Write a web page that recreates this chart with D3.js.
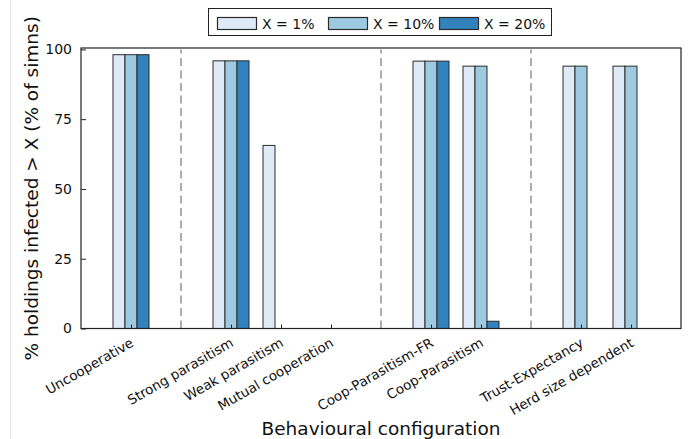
<!DOCTYPE html>
<html>
<head>
<meta charset="utf-8">
<script src="https://cdn.jsdelivr.net/npm/d3@7"></script>
<style>
  html, body { margin: 0; padding: 0; background: #fff; }
  svg { display: block; font-family: "DejaVu Sans", sans-serif; }
</style>
</head>
<body>
<svg id="chart" width="698" height="439"></svg>
<script>
// Behavioural configurations, grouped; a dashed separator sits between groups
const groups = [
  ["Uncooperative"],
  ["Strong parasitism", "Weak parasitism", "Mutual cooperation"],
  ["Coop-Parasitism-FR", "Coop-Parasitism"],
  ["Trust-Expectancy", "Herd size dependent"]
];

// % of simulations where infected holdings exceed X
const seriesNames = ["X = 1%", "X = 10%", "X = 20%"];
const x1  = [98.1, 95.9, 65.6, 0, 95.8, 94.0, 94.0, 94.0];
const x10 = [98.1, 95.9, 0,    0, 95.8, 94.0, 94.0, 94.0];
const x20 = [98.1, 95.9, 0,    0, 95.8, 2.6,  0,    0];
const seriesValues = [x1, x10, x20];
const seriesColors = ["#deebf7", "#9ecae1", "#3182bd"];

const yTicks = [0, 25, 50, 75, 100];

const svg = d3.select("#chart");
const W = 698, H = 439;
const plotL = 81, plotR = 681, plotT = 48, plotB = 328.5;

// slot layout: one slot per category, one extra slot per separator
const categories = [];
const slots = [];
const separators = [];
let s = 0;
groups.forEach((g, gi) => {
  g.forEach(c => { s += 1; categories.push(c); slots.push(s); });
  if (gi < groups.length - 1) { s += 1; separators.push(s); }
});
const nSlots = s + 1;

const x = d3.scaleLinear().domain([0, nSlots]).range([plotL, plotR]);
const y = d3.scaleLinear().domain([0, 100.5]).range([plotB, plotT]);
const barW = 0.24; // in slot units
const offsets = [-1, 0, 1];

// faint page border on the left
svg.append("line")
  .attr("x1", 10.5).attr("x2", 10.5).attr("y1", 0).attr("y2", H)
  .attr("stroke", "#e2e2e2").attr("stroke-width", 1);

// separators
svg.append("g").selectAll("line").data(separators).join("line")
  .attr("x1", d => x(d)).attr("x2", d => x(d))
  .attr("y1", y(0)).attr("y2", y(100))
  .attr("stroke", "#999").attr("stroke-width", 1.6)
  .attr("stroke-dasharray", "8,4.5");

// bars
const bars = [];
seriesValues.forEach((vals, si) => {
  vals.forEach((v, ci) => {
    bars.push({ si, ci, v });
  });
});
svg.append("g").selectAll("rect").data(bars).join("rect")
  .attr("x", d => x(slots[d.ci] + offsets[d.si] * barW - barW / 2))
  .attr("width", d => x(barW) - x(0))
  .attr("y", d => y(d.v))
  .attr("height", d => y(0) - y(d.v))
  .attr("fill", d => seriesColors[d.si])
  .attr("stroke", "#2b2b2b").attr("stroke-width", 1);

// frame
svg.append("rect")
  .attr("x", plotL).attr("y", plotT)
  .attr("width", plotR - plotL).attr("height", plotB - plotT)
  .attr("fill", "none").attr("stroke", "#222").attr("stroke-width", 1.2);

// y axis ticks (inward) and labels
const yAxis = d3.axisLeft(y).tickValues(yTicks).tickSize(-5).tickPadding(9);
const gy = svg.append("g").attr("transform", `translate(${plotL},0)`).call(yAxis);
gy.select(".domain").remove();
gy.selectAll(".tick line").attr("stroke", "#222");
gy.selectAll(".tick text")
  .attr("font-family", "DejaVu Sans, sans-serif")
  .attr("font-size", 14).attr("fill", "#111");

// x axis ticks (inward) and rotated labels
const xAxis = d3.axisBottom(x).tickValues(slots).tickSize(-4).tickFormat((d, i) => categories[i]);
const gx = svg.append("g").attr("transform", `translate(0,${plotB})`).call(xAxis);
gx.select(".domain").remove();
gx.selectAll(".tick line").attr("stroke", "#222");
gx.selectAll(".tick text")
  .attr("font-family", "DejaVu Sans, sans-serif")
  .attr("font-size", 13.5).attr("fill", "#111")
  .attr("text-anchor", "end")
  .attr("dy", null)
  .attr("y", 0)
  .attr("transform", "translate(3,17) rotate(-30)");

// axis titles
svg.append("text")
  .attr("transform", `translate(38,${(plotT + plotB) / 2}) rotate(-90)`)
  .attr("text-anchor", "middle")
  .attr("font-size", 18.5).attr("fill", "#111")
  .text("% holdings infected > X (% of simns)");

svg.append("text")
  .attr("x", (plotL + plotR) / 2).attr("y", 435)
  .attr("text-anchor", "middle")
  .attr("font-size", 18.5).attr("fill", "#111")
  .text("Behavioural configuration");

// legend
const lg = svg.append("g");
lg.append("rect")
  .attr("x", 208.5).attr("y", 8.5).attr("width", 343).attr("height", 27)
  .attr("fill", "#fff").attr("stroke", "#222").attr("stroke-width", 1);
const legendX = [217, 328, 439];
seriesNames.forEach((name, i) => {
  lg.append("rect")
    .attr("x", legendX[i] + 0.5).attr("y", 17.5).attr("width", 39).attr("height", 12)
    .attr("fill", seriesColors[i]).attr("stroke", "#2b2b2b").attr("stroke-width", 1.2);
  lg.append("text")
    .attr("x", legendX[i] + 45).attr("y", 28.5)
    .attr("font-size", 14).attr("fill", "#111")
    .text(name);
});
</script>
</body>
</html>
